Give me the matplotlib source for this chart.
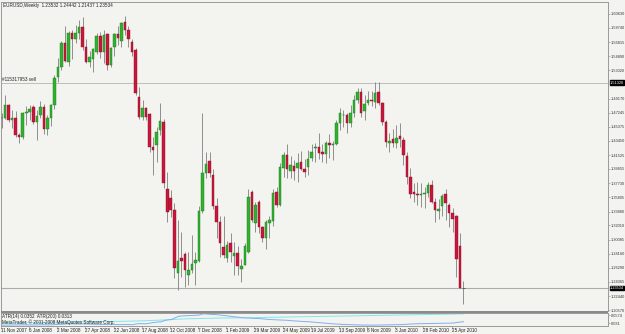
import numpy as np
import matplotlib
matplotlib.use("Agg")
import matplotlib.pyplot as plt
from matplotlib.patches import Rectangle
from matplotlib.transforms import blended_transform_factory

plt.rcParams['font.family'] = ['Liberation Sans', 'DejaVu Sans']

# EURUSD weekly candles, week of 11 Nov 2007 .. week of 16 May 2010
opens = [1.4650, 1.4660, 1.4831, 1.4630, 1.4650, 1.4425, 1.4395, 1.4718, 1.4740, 1.4808,
         1.4605, 1.4695, 1.4800, 1.4502, 1.4659, 1.4831, 1.5206, 1.5350, 1.5670, 1.5417,
         1.5801, 1.5730, 1.5810, 1.5880, 1.5613, 1.5417, 1.5450, 1.5552, 1.5765, 1.5552,
         1.5790, 1.5372, 1.5619, 1.5791, 1.5691, 1.5958, 1.5845, 1.5687, 1.5575, 1.4943,
         1.4672, 1.4790, 1.4705, 1.4266, 1.4290, 1.4490, 1.4600, 1.3700, 1.3573, 1.3410,
         1.2562, 1.2765, 1.2810, 1.2530, 1.2598, 1.2690, 1.2724, 1.3401, 1.3907, 1.4077,
         1.3884, 1.3464, 1.3250, 1.2914, 1.2761, 1.2968, 1.2790, 1.2828, 1.2612, 1.2666,
         1.2846, 1.3658, 1.3240, 1.3522, 1.3184, 1.3027, 1.3230, 1.3266, 1.3658, 1.3478,
         1.3974, 1.4150, 1.3942, 1.4000, 1.3974, 1.4064, 1.3961, 1.3996, 1.4109, 1.4250,
         1.4267, 1.4190, 1.4170, 1.4320, 1.4290, 1.4300, 1.4583, 1.4695, 1.4695, 1.4583,
         1.4718, 1.4898, 1.5011, 1.4754, 1.4858, 1.4900, 1.4870, 1.5011, 1.4854, 1.4605,
         1.4312, 1.4366, 1.4320, 1.4411, 1.4357, 1.4140, 1.3852, 1.3658, 1.3630, 1.3615,
         1.3625, 1.3640, 1.3748, 1.3522, 1.3400, 1.3470, 1.3627, 1.3478, 1.3370, 1.3329,
         1.2923, 1.2353]
highs = [1.4722, 1.4966, 1.4850, 1.4763, 1.4754, 1.4448, 1.4740, 1.4817, 1.4831, 1.4835,
         1.4760, 1.4880, 1.4840, 1.4700, 1.4840, 1.5240, 1.5460, 1.5700, 1.5905, 1.5830,
         1.5850, 1.5910, 1.5980, 1.6019, 1.5720, 1.5560, 1.5600, 1.5800, 1.5815, 1.5840,
         1.5800, 1.5620, 1.5800, 1.5900, 1.5950, 1.6038, 1.5900, 1.5720, 1.5600, 1.5078,
         1.4898, 1.4808, 1.4720, 1.4400, 1.4530, 1.4862, 1.4640, 1.3920, 1.3681, 1.3501,
         1.3275, 1.3116, 1.2846, 1.2846, 1.3072, 1.2846, 1.3470, 1.4719, 1.4200, 1.4200,
         1.3970, 1.3570, 1.3330, 1.3330, 1.2990, 1.3095, 1.2980, 1.2920, 1.2750, 1.2960,
         1.3700, 1.3681, 1.3520, 1.3545, 1.3200, 1.3270, 1.3330, 1.3700, 1.3720, 1.4050,
         1.4200, 1.4300, 1.4140, 1.4080, 1.4177, 1.4210, 1.4100, 1.4222, 1.4300, 1.4312,
         1.4447, 1.4300, 1.4350, 1.4440, 1.4350, 1.4628, 1.4786, 1.4760, 1.4718, 1.4831,
         1.4970, 1.5061, 1.5057, 1.4960, 1.5020, 1.5020, 1.5146, 1.5146, 1.4870, 1.4628,
         1.4447, 1.4510, 1.4560, 1.4583, 1.4402, 1.4199, 1.3980, 1.3771, 1.3790, 1.3770,
         1.3720, 1.3793, 1.3816, 1.3568, 1.3560, 1.3620, 1.3690, 1.3501, 1.3433, 1.3343,
         1.3093, 1.2444]
lows = [1.4520, 1.4640, 1.4600, 1.4515, 1.4402, 1.4312, 1.4370, 1.4560, 1.4630, 1.4580,
        1.4357, 1.4660, 1.4440, 1.4430, 1.4540, 1.4770, 1.5146, 1.5300, 1.5410, 1.5360,
        1.5450, 1.5670, 1.5720, 1.5580, 1.5400, 1.5340, 1.5282, 1.5520, 1.5470, 1.5400,
        1.5304, 1.5340, 1.5500, 1.5640, 1.5620, 1.5780, 1.5620, 1.5500, 1.4960, 1.4640,
        1.4628, 1.4628, 1.4200, 1.3884, 1.4060, 1.4420, 1.3704, 1.3252, 1.3319, 1.2486,
        1.2328, 1.2508, 1.2372, 1.2395, 1.2560, 1.2395, 1.2700, 1.3370, 1.3840, 1.3860,
        1.3420, 1.3027, 1.2780, 1.2760, 1.2710, 1.2710, 1.2531, 1.2531, 1.2440, 1.2660,
        1.2830, 1.3250, 1.3110, 1.3100, 1.2980, 1.2878, 1.3030, 1.3200, 1.3450, 1.3470,
        1.3860, 1.3839, 1.3840, 1.3816, 1.3793, 1.3950, 1.3850, 1.3884, 1.4070, 1.4064,
        1.4100, 1.4064, 1.4050, 1.4120, 1.4090, 1.4290, 1.4492, 1.4537, 1.4447, 1.4537,
        1.4672, 1.4854, 1.4672, 1.4628, 1.4831, 1.4820, 1.4786, 1.4830, 1.4560, 1.4267,
        1.4199, 1.4260, 1.4245, 1.4267, 1.4019, 1.3760, 1.3570, 1.3523, 1.3480, 1.3450,
        1.3432, 1.3580, 1.3510, 1.3252, 1.3290, 1.3330, 1.3275, 1.3184, 1.3116, 1.2507,
        1.2351, 1.2144]
closes = [1.4660, 1.4831, 1.4630, 1.4650, 1.4425, 1.4395, 1.4718, 1.4740, 1.4777, 1.4605,
          1.4680, 1.4800, 1.4502, 1.4659, 1.4831, 1.5190, 1.5349, 1.5674, 1.5430, 1.5801,
          1.5730, 1.5810, 1.5880, 1.5613, 1.5417, 1.5485, 1.5585, 1.5765, 1.5552, 1.5777,
          1.5372, 1.5600, 1.5791, 1.5733, 1.5935, 1.5845, 1.5719, 1.5552, 1.4989, 1.4672,
          1.4790, 1.4672, 1.4266, 1.4222, 1.4470, 1.4620, 1.3771, 1.3387, 1.3410, 1.2625,
          1.2724, 1.2720, 1.2598, 1.2598, 1.2680, 1.2734, 1.3401, 1.3907, 1.4032, 1.3915,
          1.3464, 1.3252, 1.2960, 1.2801, 1.2937, 1.2846, 1.2825, 1.2652, 1.2657, 1.2923,
          1.3582, 1.3275, 1.3480, 1.3184, 1.3027, 1.3252, 1.3275, 1.3636, 1.3478, 1.3987,
          1.4154, 1.3961, 1.4019, 1.3942, 1.4050, 1.3970, 1.3928, 1.4096, 1.4199, 1.4260,
          1.4177, 1.4170, 1.4320, 1.4290, 1.4300, 1.4583, 1.4718, 1.4701, 1.4583, 1.4718,
          1.4898, 1.5000, 1.4718, 1.4845, 1.4900, 1.4880, 1.4990, 1.4854, 1.4605, 1.4334,
          1.4348, 1.4312, 1.4384, 1.4366, 1.4154, 1.3861, 1.3620, 1.3627, 1.3610, 1.3630,
          1.3640, 1.3750, 1.3522, 1.3410, 1.3425, 1.3600, 1.3500, 1.3365, 1.3290, 1.2743,
          1.2351, 1.2353]

atr14 = [0.0250, 0.0252, 0.0255, 0.0253, 0.0256, 0.0258, 0.0262, 0.0260, 0.0258, 0.0256,
         0.0260, 0.0262, 0.0265, 0.0262, 0.0260, 0.0272, 0.0275, 0.0280, 0.0290, 0.0295,
         0.0292, 0.0288, 0.0285, 0.0290, 0.0288, 0.0282, 0.0280, 0.0278, 0.0275, 0.0272,
         0.0278, 0.0275, 0.0270, 0.0268, 0.0270, 0.0272, 0.0270, 0.0265, 0.0290, 0.0300,
         0.0298, 0.0295, 0.0318, 0.0335, 0.0350, 0.0355, 0.0395, 0.0420, 0.0430, 0.0480,
         0.0530, 0.0545, 0.0550, 0.0555, 0.0560, 0.0565, 0.0575, 0.0610, 0.0605, 0.0595,
         0.0590, 0.0585, 0.0570, 0.0560, 0.0545, 0.0530, 0.0515, 0.0505, 0.0490, 0.0480,
         0.0480, 0.0470, 0.0465, 0.0460, 0.0450, 0.0440, 0.0430, 0.0425, 0.0420, 0.0415,
         0.0410, 0.0405, 0.0395, 0.0385, 0.0380, 0.0370, 0.0365, 0.0360, 0.0350, 0.0340,
         0.0330, 0.0320, 0.0310, 0.0300, 0.0292, 0.0285, 0.0278, 0.0272, 0.0268, 0.0265,
         0.0262, 0.0258, 0.0256, 0.0255, 0.0254, 0.0252, 0.0252, 0.0254, 0.0256, 0.0258,
         0.0260, 0.0262, 0.0265, 0.0268, 0.0272, 0.0280, 0.0288, 0.0292, 0.0295, 0.0298,
         0.0300, 0.0302, 0.0305, 0.0308, 0.0310, 0.0310, 0.0312, 0.0315, 0.0318, 0.0335,
         0.0350, 0.0360]
atr200 = [0.0320, 0.0322, 0.0323, 0.0325, 0.0326, 0.0328, 0.0330, 0.0331, 0.0333, 0.0334,
          0.0336, 0.0337, 0.0339, 0.0340, 0.0342, 0.0344, 0.0346, 0.0348, 0.0351, 0.0352,
          0.0354, 0.0355, 0.0357, 0.0358, 0.0360, 0.0361, 0.0362, 0.0364, 0.0365, 0.0366,
          0.0368, 0.0369, 0.0370, 0.0372, 0.0373, 0.0375, 0.0376, 0.0378, 0.0382, 0.0386,
          0.0390, 0.0393, 0.0398, 0.0403, 0.0408, 0.0412, 0.0418, 0.0424, 0.0430, 0.0437,
          0.0443, 0.0448, 0.0452, 0.0455, 0.0458, 0.0461, 0.0464, 0.0468, 0.0470, 0.0472,
          0.0474, 0.0476, 0.0478, 0.0480, 0.0481, 0.0482, 0.0483, 0.0484, 0.0485, 0.0486,
          0.0488, 0.0490, 0.0492, 0.0494, 0.0496, 0.0498, 0.0500, 0.0502, 0.0504, 0.0506,
          0.0508, 0.0510, 0.0512, 0.0514, 0.0516, 0.0518, 0.0520, 0.0522, 0.0524, 0.0526,
          0.0528, 0.0530, 0.0532, 0.0534, 0.0536, 0.0538, 0.0540, 0.0542, 0.0544, 0.0546,
          0.0548, 0.0550, 0.0552, 0.0554, 0.0556, 0.0558, 0.0560, 0.0562, 0.0564, 0.0566,
          0.0568, 0.0570, 0.0572, 0.0574, 0.0576, 0.0578, 0.0580, 0.0582, 0.0584, 0.0586,
          0.0588, 0.0590, 0.0592, 0.0594, 0.0596, 0.0598, 0.0600, 0.0602, 0.0604, 0.0606,
          0.0608, 0.0610]

date_labels = ["11 Nov 2007", "6 Jan 2008", "2 Mar 2008", "27 Apr 2008", "22 Jun 2008",
               "17 Aug 2008", "12 Oct 2008", "7 Dec 2008", "1 Feb 2009", "29 Mar 2009",
               "24 May 2009", "19 Jul 2009", "13 Sep 2009", "8 Nov 2009", "3 Jan 2010",
               "28 Feb 2010", "25 Apr 2010"]
date_bars = list(range(0, 132, 8))

# 1.51095 sits under the order price box, so it is left out
price_ticks = [1.60630, 1.58740, 1.56815, 1.54890, 1.53020, 1.49170, 1.47245,
               1.45375, 1.43450, 1.41525, 1.39655, 1.37730, 1.35805, 1.33880, 1.32010,
               1.30085, 1.28160, 1.26290, 1.24365, 1.22440, 1.20570]

order_price = 1.51320
order_text = "#115317953 sell"
bid_price = 1.23534
header = "EURUSD,Weekly  1.23532 1.24442 1.21437 1.23534"

bg = "#f3f4f0"
frame = "#9a9a9a"
W, H = 625, 334
fs = 3.3      # left side / bottom texts
fr = 2.75     # right price scale

def box(x0, y0, x1, y1):
    return [x0 / W, 1 - y1 / H, (x1 - x0) / W, (y1 - y0) / H]

fig = plt.figure(figsize=(6.25, 3.34), dpi=100, facecolor=bg)
ax = fig.add_axes(box(1, 2, 608.3, 311))
ax2 = fig.add_axes(box(1, 313, 608.3, 326))

for a in (ax, ax2):
    a.set_facecolor(bg)
    for s in a.spines.values():
        s.set_color(frame)
        s.set_linewidth(0.7)
    a.set_xlim(-0.16, 172.13)

# separator between price window and indicator window
fig.patches.append(Rectangle((1 / W, 1 - 313 / H), 607.3 / W, 2 / H, transform=fig.transFigure,
                             facecolor="#8a8a8a", edgecolor="none"))

o = np.array(opens)
h = np.array(highs)
l = np.array(lows)
c = np.array(closes)
x = np.arange(len(o))
up = c > o
down = c < o
flat = c == o

ax.vlines(x, l, h, color="#878787", lw=0.65, zorder=2)
ax.bar(x[up], (c - o)[up], bottom=o[up], width=0.72, color="#30b230",
       edgecolor="#1c7a1c", linewidth=0.3, zorder=3)
ax.bar(x[down], (o - c)[down], bottom=c[down], width=0.72, color="#c8163c",
       edgecolor="#8a0f27", linewidth=0.3, zorder=3)
ax.hlines(c[flat], x[flat] - 0.36, x[flat] + 0.36, color="#555555", lw=0.6, zorder=3)

ax.set_ylim(1.204347, 1.622424)
ax.yaxis.tick_right()
ax.set_yticks(price_ticks)
ax.set_yticklabels(["%.5f" % v for v in price_ticks])
ax.tick_params(axis="y", length=1.2, width=0.5, color=frame, pad=0.4, labelsize=fr, labelcolor="#333333")
ax.set_xticks([])

ax.axhline(order_price, color="#777777", lw=0.6, ls=(0, (1.2, 1.2)), zorder=1)
ax.axhline(bid_price, color="#ababab", lw=0.8, zorder=1)

tr = blended_transform_factory(ax.transAxes, ax.transData)
for p in (order_price, bid_price):
    ax.text(1.0025, p, "%.5f" % p, transform=tr, fontsize=fr, color="white",
            va="center", ha="left", clip_on=False, zorder=5,
            bbox=dict(boxstyle="square,pad=0.08", facecolor="black", edgecolor="black"))
ax.text(0.0015, order_price + 0.0012, order_text, transform=tr, fontsize=fs, color="#222222",
        va="bottom", ha="left")

ax.text(0.0035, 0.989, header, transform=ax.transAxes, fontsize=fs, color="#222222",
        va="center", ha="left")

# ATR sub-window
ax2.plot(x, atr200, color="#7fe6f2", lw=0.7)
ax2.plot(x, atr14, color="#7fb0ee", lw=0.7)
ax2.set_ylim(0.0224, 0.0638)
ax2.yaxis.tick_right()
ax2.set_yticks([0.0574, 0.031])
ax2.set_yticklabels(["0.0574", "0.031"])
ax2.tick_params(axis="y", length=1.2, width=0.5, color=frame, pad=0.4, labelsize=fr, labelcolor="#333333")
ax2.set_xticks([b - 0.4 for b in date_bars])
ax2.set_xticklabels([])
ax2.tick_params(axis="x", length=2, width=0.5, color=frame)
ax2.text(0.002, 0.72, "ATR(14) 0.0352  ATR(200) 0.0313", transform=ax2.transAxes,
         fontsize=fs, color="#222222", va="center", ha="left")
ax2.text(0.002, 0.28, "MetaTrader, \u00a9 2001-2008 MetaQuotes Software Corp.", transform=ax2.transAxes,
         fontsize=fs, color="#222222", va="center", ha="left")

tr2 = blended_transform_factory(ax2.transData, ax2.transAxes)
for b, lab in zip(date_bars, date_labels):
    ax2.text(b - 0.4, -0.35, lab, transform=tr2, fontsize=fs, color="#222222",
             va="center", ha="left", clip_on=False)

fig.savefig("out.png", dpi=100, facecolor=bg)
